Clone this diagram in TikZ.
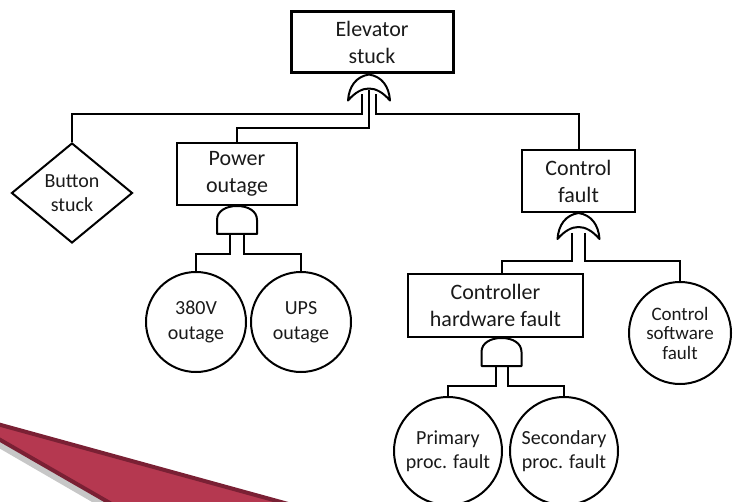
\documentclass[tikz,border=0pt]{standalone}
\usepackage{fontspec}
\setmainfont{Carlito}
\usetikzlibrary{shapes.geometric,calc}
\definecolor{redfill}{HTML}{B53850}
\definecolor{redborder}{HTML}{7A2034}
\definecolor{txt}{HTML}{1A1A1A}
\begin{document}
\begin{tikzpicture}[x=1pt,y=-1pt,
  box/.style={draw, rectangle, line width=2pt, align=center, inner sep=0pt, text=txt,
    font=\fontsize{22}{27}\selectfont},
  evt/.style={draw, circle, line width=2pt, align=center, inner sep=0pt, text=txt,
    font=\fontsize{20}{24.5}\selectfont},
  conn/.style={line width=2pt, line join=miter},
  gate/.style={draw, fill=white, line width=2pt, line join=round},
  orgate/.pic={\path[gate] (0,0) .. controls (13,2) and (20,12) .. (21,26)
      .. controls (14,18) and (7,14) .. (0,14)
      .. controls (-7,14) and (-14,18) .. (-21,26)
      .. controls (-20,12) and (-13,2) .. (0,0) -- cycle;},
  andgate/.pic={\path[gate] (-20,28) -- (-20,14) .. controls (-20,5) and (-11,0) .. (0,0)
      .. controls (11,0) and (20,5) .. (20,14) -- (20,28) -- cycle;}
]
\useasboundingbox (0,0) rectangle (735,502);
% decorative red wedge
\begin{scope}
  \clip (0,0) rectangle (735,502);
  \fill[black, opacity=0.22] (-53,418) -- (309,517) -- (118,517) -- cycle;
  \draw[draw=redborder, fill=redfill, line width=4pt, line join=round]
    (-50,411) -- (310,510) -- (122,510) -- cycle;
\end{scope}

% events
\node[box, line width=3pt, minimum width=162, minimum height=61] (top) at (372,42.5) {Elevator\\stuck};
\node[box, minimum width=120, minimum height=62] (power) at (237,174) {Power\\outage};
\node[box, minimum width=113, minimum height=62] (ctrl) at (578.5,181) {Control\\fault};
\node[box, minimum width=175, minimum height=63] (hw) at (495.5,305.5) {Controller\\hardware fault};
\node[diamond, draw, line width=2pt, align=center, inner sep=0pt, aspect=1.2, text=txt,
  font=\fontsize{20}{24.5}\selectfont, minimum width=121, minimum height=100] (button) at (72,193) {Button\\stuck};
\node[evt, minimum size=100] (v380) at (196,322) {380V\\outage};
\node[evt, minimum size=100] (ups) at (301,322) {UPS\\outage};
\node[evt, minimum size=102, font=\fontsize{19}{19.5}\selectfont] (sw) at (680,333) {Control\\software\\fault};
\node[evt, minimum size=108] (prim) at (448,451) {Primary\\proc. fault};
\node[evt, minimum size=108] (sec) at (564,451) {Secondary\\proc. fault};

% gate positions
\coordinate (g1) at ($(top.south)+(-3,0)$);
\coordinate (g2) at (power.south);
\coordinate (g3) at (ctrl.south);
\coordinate (g4) at ($(hw.south)+(6,0)$);

% connectors
\draw[conn] ($(g1)+(-7,20)$) -- ($(g1)+(-7,40)$) -| (button.north);
\draw[conn] ($(g1)+(0,16)$) -- ($(g1)+(0,54)$) -| (power.north);
\draw[conn] ($(g1)+(7,20)$) -- ($(g1)+(7,40)$) -| (ctrl.north);
\draw[conn] ($(g2)+(-7,20)$) -- ($(g2)+(-7,48)$) -| (v380.north);
\draw[conn] ($(g2)+(7,20)$) -- ($(g2)+(7,48)$) -| (ups.north);
\draw[conn] ($(g3)+(-6.5,20)$) -- ($(g3)+(-6.5,48)$) -| (g4 |- hw.north);
\draw[conn] ($(g3)+(6.5,20)$) -- ($(g3)+(6.5,48)$) -| (sw.north);
\draw[conn] ($(g4)+(-6,20)$) -- ($(g4)+(-6,48)$) -| (prim.north);
\draw[conn] ($(g4)+(6,20)$) -- ($(g4)+(6,48)$) -| (sec.north);

% gates
\pic at (g1) {orgate};
\pic at (g2) {andgate};
\pic at (g3) {orgate};
\pic at (g4) {andgate};
\end{tikzpicture}
\end{document}
